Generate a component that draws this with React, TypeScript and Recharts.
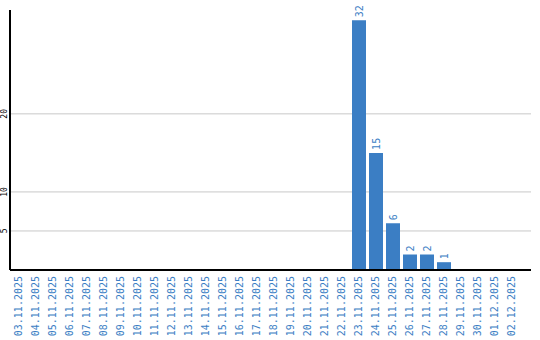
import React from "react";
import { BarChart, Bar, XAxis, YAxis, CartesianGrid, LabelList } from "recharts";

const categories = [
  "03.11.2025", "04.11.2025", "05.11.2025", "06.11.2025", "07.11.2025",
  "08.11.2025", "09.11.2025", "10.11.2025", "11.11.2025", "12.11.2025",
  "13.11.2025", "14.11.2025", "15.11.2025", "16.11.2025", "17.11.2025",
  "18.11.2025", "19.11.2025", "20.11.2025", "21.11.2025", "22.11.2025",
  "23.11.2025", "24.11.2025", "25.11.2025", "26.11.2025", "27.11.2025",
  "28.11.2025", "29.11.2025", "30.11.2025", "01.12.2025", "02.12.2025",
];
const values: (number | null)[] = [
  0, 0, 0, 0, 0, 0, 0, 0, 0, 0,
  0, 0, 0, 0, 0, 0, 0, 0, 0, 0,
  32, 15, 6, 2, 2, 1, 0, 0, 0, 0,
];
const yTicks = [5, 10, 20];
const yDomain: [number, number] = [0, 33.3];

const data = categories.map((c, i) => ({ date: c, count: values[i] }));

const BLUE = "#3b7ec4";
const FONT = "'DejaVu Sans Mono', monospace";

const XTick = (props: any) => {
  const { x, payload } = props;
  return (
    <text
      transform={`translate(${x - 0.5},276) rotate(-90)`}
      textAnchor="end"
      dominantBaseline="central"
      fontSize={10}
      fontFamily={FONT}
      fill={BLUE}
    >
      {payload.value}
    </text>
  );
};

const YTick = (props: any) => {
  const { y, payload } = props;
  return (
    <text
      transform={`translate(4,${y}) rotate(-90)`}
      textAnchor="middle"
      dominantBaseline="central"
      fontSize={8}
      fontFamily={FONT}
      fill="#000"
    >
      {payload.value}
    </text>
  );
};

const BarLabel = (props: any) => {
  const { x, y, width, value } = props;
  if (!value) return null;
  return (
    <text
      transform={`translate(${x + width / 2},${y - 3}) rotate(-90)`}
      textAnchor="start"
      dominantBaseline="central"
      fontSize={10}
      fontFamily={FONT}
      fill={BLUE}
    >
      {value}
    </text>
  );
};

const gridGen = (p: any) => {
  const s = p?.yAxis?.scale;
  if (typeof s === "function") return yTicks.map((t) => s(t));
  if (s && typeof s.map === "function") return yTicks.map((t) => s.map(t));
  const top = p.offset.top;
  const h = p.offset.height;
  return yTicks.map((t) => top + h * (1 - (t - yDomain[0]) / (yDomain[1] - yDomain[0])));
};

export default function App() {
  return (
    <div>
      <style>{`body{margin:0}`}</style>
      <BarChart
        width={540}
        height={340}
        data={data}
        margin={{ top: 10, right: 9, bottom: 0, left: 0 }}
        barSize={14}
      >
        <CartesianGrid
          horizontal
          vertical={false}
          stroke="#c8c8c8"
          horizontalCoordinatesGenerator={gridGen}
        />
        <XAxis
          dataKey="date"
          interval={0}
          height={70}
          tickLine={false}
          axisLine={{ stroke: "#000", strokeWidth: 2 }}
          tick={<XTick />}
          padding={{ left: 0, right: 11 }}
        />
        <YAxis
          width={10}
          domain={yDomain}
          ticks={yTicks}
          tickLine={false}
          axisLine={{ stroke: "#000", strokeWidth: 2 }}
          tick={<YTick />}
          allowDataOverflow
        />
        <Bar dataKey="count" fill={BLUE} isAnimationActive={false}>
          <LabelList dataKey="count" content={<BarLabel />} />
        </Bar>
      </BarChart>
    </div>
  );
}
